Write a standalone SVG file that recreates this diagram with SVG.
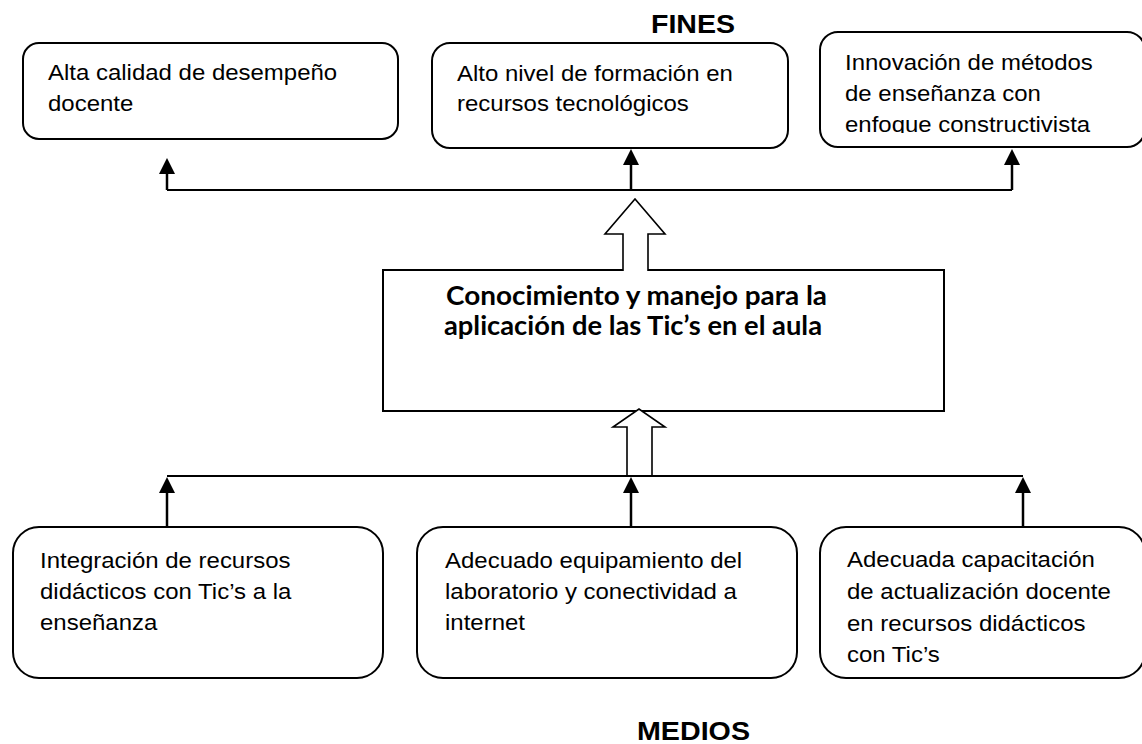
<svg xmlns="http://www.w3.org/2000/svg" width="1142" height="744" viewBox="0 0 1142 744">
<style>
.box{fill:#fff;stroke:#000;stroke-width:2}
.t{font-family:"Liberation Sans",Arial,sans-serif;font-size:22px;fill:#000}
.h{font-family:"Liberation Sans",Arial,sans-serif;font-size:25px;font-weight:bold;fill:#000}
.c{font-family:Lato,"Open Sans",sans-serif;font-size:26px;font-weight:bold;fill:#000}
.ln{fill:none;stroke:#000;stroke-width:2}
.st{fill:none;stroke:#000;stroke-width:2.5}
.blk{fill:#fff;stroke:#000;stroke-width:1.6;stroke-linejoin:miter}
</style>
<defs>
<marker id="ah" markerUnits="userSpaceOnUse" markerWidth="16" markerHeight="16" viewBox="0 0 16 16" refX="0" refY="8" orient="auto">
<path d="M0,0 L16,8 L0,16 Z" fill="#000"/>
</marker>
<clipPath id="clip3"><rect x="820" y="30" width="322" height="103"/></clipPath>
</defs>

<text class="h" x="651" y="33" textLength="84" lengthAdjust="spacingAndGlyphs">FINES</text>
<text class="h" x="637" y="740" textLength="113" lengthAdjust="spacingAndGlyphs">MEDIOS</text>

<g id="fin1">
<rect class="box" x="23" y="43" width="375" height="96" rx="16"/>
<g transform="translate(48 0) scale(1.09 1)"><text class="t" x="0" y="80">Alta calidad de desempeño</text><text class="t" x="0" y="111">docente</text></g>
</g>
<g id="fin2">
<rect class="box" x="432" y="43" width="356" height="105" rx="18"/>
<g transform="translate(457 0) scale(1.09 1)"><text class="t" x="0" y="81">Alto nivel de formación en</text><text class="t" x="0" y="111">recursos tecnológicos</text></g>
</g>
<g id="fin3">
<rect class="box" x="820" y="32" width="325" height="115" rx="18"/>
<g clip-path="url(#clip3)"><g transform="translate(845 0) scale(1.09 1)"><text class="t" x="0" y="70">Innovación de métodos</text><text class="t" x="0" y="101">de enseñanza con</text><text class="t" x="0" y="132">enfoque constructivista</text></g></g>
</g>

<g id="center">
<rect x="383" y="270" width="561" height="141" fill="#fff" stroke="#000" stroke-width="2"/>
<text class="c" x="446" y="305" textLength="381" lengthAdjust="spacingAndGlyphs">Conocimiento y manejo para la</text>
<text class="c" x="444" y="335" textLength="378" lengthAdjust="spacingAndGlyphs">aplicación de las Tic’s en el aula</text>
</g>

<g id="med1">
<rect class="box" x="13" y="527" width="370" height="151" rx="26"/>
<g transform="translate(40 0) scale(1.09 1)"><text class="t" x="0" y="568">Integración de recursos</text><text class="t" x="0" y="599">didácticos con Tic’s a la</text><text class="t" x="0" y="630">enseñanza</text></g>
</g>
<g id="med2">
<rect class="box" x="417" y="527" width="380" height="151" rx="26"/>
<g transform="translate(445 0) scale(1.09 1)"><text class="t" x="0" y="568">Adecuado equipamiento del</text><text class="t" x="0" y="599">laboratorio y conectividad a</text><text class="t" x="0" y="630">internet</text></g>
</g>
<g id="med3">
<rect class="box" x="820" y="527" width="325" height="151" rx="26"/>
<g transform="translate(847 0) scale(1.09 1)"><text class="t" x="0" y="567">Adecuada capacitación</text><text class="t" x="0" y="599">de actualización docente</text><text class="t" x="0" y="631">en recursos didácticos</text><text class="t" x="0" y="662">con Tic’s</text></g>
</g>

<g id="connectors">
<polyline class="ln" points="167,190 1012,190"/>
<line class="st" x1="167" y1="190" x2="167" y2="174" marker-end="url(#ah)"/>
<line class="st" x1="631" y1="190" x2="631" y2="165" marker-end="url(#ah)"/>
<line class="st" x1="1012" y1="190" x2="1012" y2="165" marker-end="url(#ah)"/>
<path class="blk" d="M623,271 L623,234 L605,234 L635,199 L665,234 L648,234 L648,271"/>
<path class="blk" d="M627,476 L627,427 L613,427 L639,409 L665,427 L652,427 L652,476"/>
<polyline class="ln" points="167,476 1023,476"/>
<line class="st" x1="167" y1="527" x2="167" y2="493" marker-end="url(#ah)"/>
<line class="st" x1="631" y1="527" x2="631" y2="493" marker-end="url(#ah)"/>
<line class="st" x1="1023" y1="527" x2="1023" y2="493" marker-end="url(#ah)"/>
</g>
</svg>
